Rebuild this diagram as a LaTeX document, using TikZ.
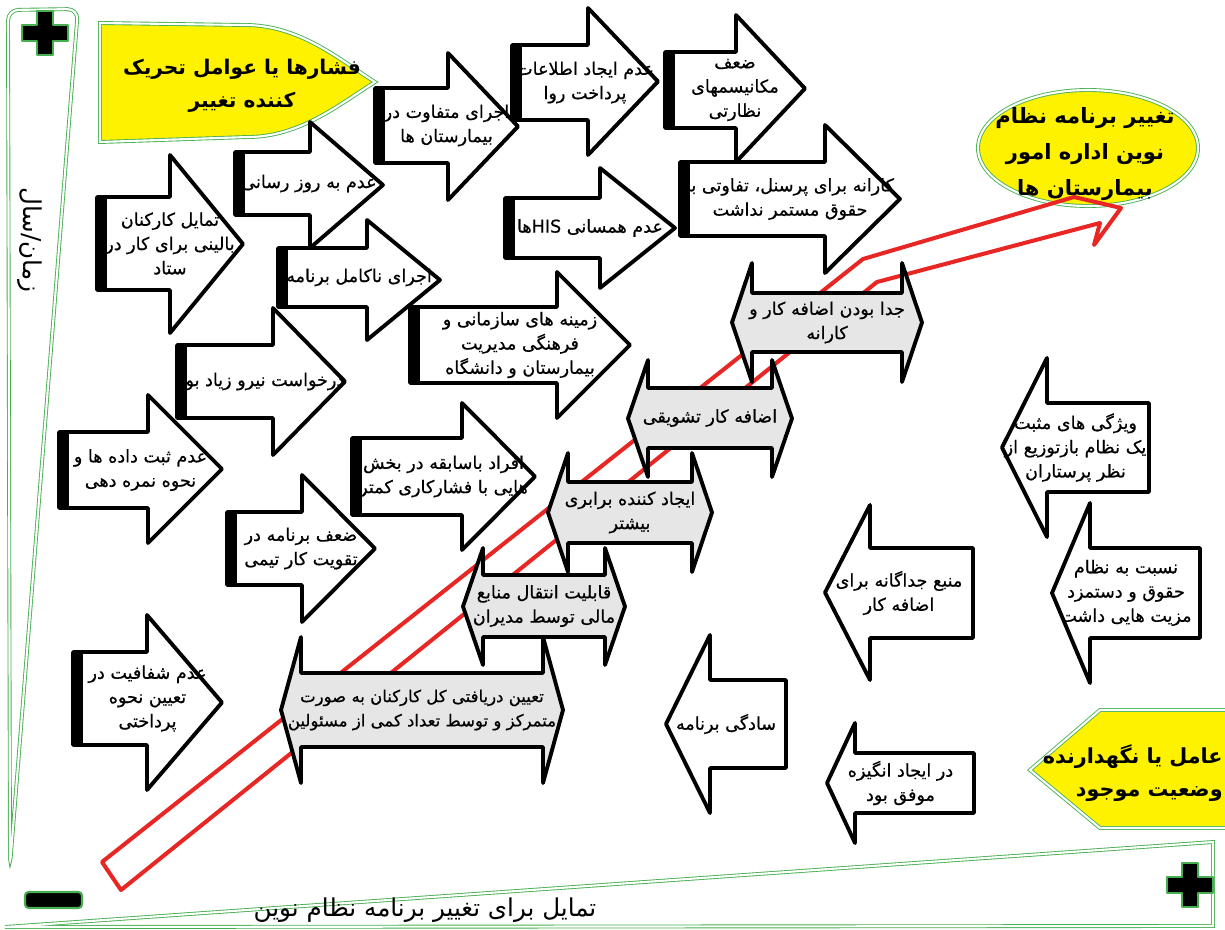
\documentclass[tikz,border=0pt]{standalone}
\usepackage{fontspec}
\usepackage{xcolor}
\usepackage{tikz}
\usetikzlibrary{calc}
\newfontfamily\farsi[Script=Arabic]{DejaVu Sans}
\newfontfamily\farsibox[Script=Arabic, FakeBold=0.6]{DejaVu Sans}
\TeXXeTstate=1
\definecolor{frameGreen}{RGB}{70,175,80}
\definecolor{trendRed}{RGB}{232,38,36}
\definecolor{boxGray}{RGB}{230,230,230}
\newcommand{\fa}[1]{\beginR #1\endR}
\newcommand{\fasmall}[1]{\fontsize{9.4}{13.8}\selectfont\beginR #1\endR}
% name, left, head base, tip, body top, body bottom, head top, head bottom, text
\newcommand{\rightblock}[9]{
  \draw[block] (#2,#5) -- (#3,#5) -- (#3,#7) -- (#4,{(#7+#8)/2}) -- (#3,#8) -- (#3,#6) -- (#2,#6) -- cycle;
  \fill (#2,#5) rectangle ({#2+10},#6);
  \node[blocktext] (#1) at ({(#2+#4)/2},{(#5+#6)/2}) {#9};
}
% name, tip, head base, right, body top, body bottom, head top, head bottom, text
\newcommand{\leftblock}[9]{
  \draw[block] (#2,{(#7+#8)/2}) -- (#3,#7) -- (#3,#5) -- (#4,#5) -- (#4,#6) -- (#3,#6) -- (#3,#8) -- cycle;
  \node[blocktext] (#1) at ({(#2+#4)/2},{(#5+#6)/2}) {#9};
}
% name, left base, right base, body top, body bottom, head top, head bottom, text
\newcommand{\bothblock}[8]{
  \draw[grayblock] ({#2-20},{(#6+#7)/2}) -- (#2,#6) -- (#2,#4) -- (#3,#4) -- (#3,#6) -- ({#3+20},{(#6+#7)/2}) -- (#3,#7) -- (#3,#5) -- (#2,#5) -- (#2,#7) -- cycle;
  \node[blocktext] (#1) at ({(#2+#3)/2},{(#4+#5)/2}) {#8};
}

\begin{document}
\begin{tikzpicture}[x=0.02cm,y=-0.02cm]
  \tikzstyle{block}=[draw=black, line width=2.2pt, line join=round, fill=white]
  \tikzstyle{grayblock}=[block, fill=boxGray]
  \tikzstyle{blocktext}=[font=\farsibox\fontsize{10}{13.8}\selectfont, align=center, inner sep=0pt]
  \tikzstyle{greenline}=[draw=frameGreen, line width=0.5pt, double=white, double distance=1.2pt]
  \tikzstyle{title}=[font=\farsi\bfseries\fontsize{11.5}{19}\selectfont, align=center, inner sep=0pt]
  \tikzstyle{axislabel}=[font=\farsi\fontsize{14}{16}\selectfont, inner sep=0pt]
  \tikzstyle{trend}=[draw=trendRed, line width=2.3pt, line join=round]
  \tikzstyle{sign}=[fill=black, draw=frameGreen, line width=1.5pt, line join=round]

  \useasboundingbox (0,0) rectangle (1225,930);

  % axes
  \draw[greenline, rounded corners=6] (8,10) -- (78,9) -- (10,866) -- cycle;
  \draw[greenline] (5,927) -- (1213,842) -- (1213,926) -- cycle;
  \foreach \cx/\cy in {45/33, 1190/885}
    \draw[sign] ({\cx-8},{\cy-22}) -- ({\cx+8},{\cy-22}) -- ({\cx+8},{\cy-8}) -- ({\cx+23},{\cy-8})
      -- ({\cx+23},{\cy+8}) -- ({\cx+8},{\cy+8}) -- ({\cx+8},{\cy+22}) -- ({\cx-8},{\cy+22})
      -- ({\cx-8},{\cy+8}) -- ({\cx-23},{\cy+8}) -- ({\cx-23},{\cy-8}) -- ({\cx-8},{\cy-8}) -- cycle;
  \draw[sign, line width=1.2pt, rounded corners=2] (25,892) rectangle (82,908);
  \node[axislabel, rotate=-90] (time) at (30,240) {\fa{زمان/سال}};
  \node[axislabel] (will) at (425,910) {\fa{تمایل برای تغییر برنامه نظام نوین}};

  % titles
  \draw[greenline, fill=yellow] (100,23) -- (245,25) .. controls (300,25) and (340,60) .. (375,82)
    .. controls (340,104) and (300,137) .. (248,137) -- (100,142) -- cycle;
  \node[title] (push) at (242,86) {\fa{فشارها یا عوامل تحریک}\\\fa{کننده تغییر}};
  \draw[greenline, fill=yellow] (1088,148) ellipse [x radius=110, y radius=58];
  \node[title, font=\farsi\bfseries\fontsize{12}{20.5}\selectfont] (goal) at (1085,154)
    {\fa{تغییر برنامه نظام}\\\fa{نوین اداره امور}\\\fa{بیمارستان ها}};
  \draw[greenline, fill=yellow] (1240,710) -- (1100,710) -- (1030,770) -- (1100,828) -- (1240,828);
  \node[title, align=right, anchor=east, font=\farsi\bfseries\fontsize{11.8}{19}\selectfont] (hold) at (1223,773)
    {\fa{عامل یا نگهدارنده}\\\fa{وضعیت موجود}};

  % driving forces
  \rightblock{staff}{97}{170}{243}{197}{290}{155}{333}{\fa{تمایل کارکنان}\\\fa{بالینی برای کار در}\\\fa{ستاد}}
  \rightblock{update}{235}{310}{383}{152}{215}{122}{248}{\fa{عدم به روز رسانی}}
  \rightblock{execdiff}{375}{448}{518}{88}{163}{53}{200}{\fa{اجرای متفاوت در}\\\fa{بیمارستان ها}}
  \rightblock{payinfo}{512}{588}{658}{45}{120}{8}{155}{\fa{عدم ایجاد اطلاعات}\\\fa{پرداخت روا}}
  \rightblock{monitor}{665}{736}{805}{52}{128}{15}{162}{\fa{ضعف}\\\fa{مکانیسمهای}\\\fa{نظارتی}}
  \rightblock{bonus}{680}{825}{900}{162}{236}{125}{273}{\fa{کارانه برای پرسنل، تفاوتی با}\\\fa{حقوق مستمر نداشت}}
  \rightblock{his}{505}{600}{675}{198}{258}{168}{288}{\fa{عدم همسانی \beginL HIS\endL ها}}
  \rightblock{partial}{278}{367}{440}{248}{307}{220}{340}{\fa{اجرای ناکامل برنامه}}
  \rightblock{culture}{410}{557}{630}{307}{383}{272}{418}{\fa{زمینه های سازمانی و}\\\fa{فرهنگی مدیریت}\\\fa{بیمارستان و دانشگاه}}
  \rightblock{demand}{177}{273}{345}{345}{418}{308}{455}{\fa{درخواست نیرو زیاد بود}}
  \rightblock{records}{59}{148}{222}{432}{508}{395}{543}{\fa{عدم ثبت داده ها و}\\\fa{نحوه نمره دهی}}
  \rightblock{seniors}{352}{462}{535}{438}{515}{403}{550}{\fa{افراد باسابقه در بخش}\\\fa{هایی با فشارکاری کمتر}}
  \rightblock{team}{227}{302}{375}{512}{585}{475}{622}{\fa{ضعف برنامه در}\\\fa{تقویت کار تیمی}}
  \rightblock{clarity}{73}{147}{222}{652}{745}{615}{790}{\fa{عدم شفافیت در}\\\fa{تعیین نحوه}\\\fa{پرداختی}}

  % restraining forces
  \leftblock{positive}{1002}{1047}{1149}{403}{492}{358}{537}{\fa{ویژگی های مثبت}\\\fa{یک نظام بازتوزیع از}\\\fa{نظر پرستاران}}
  \leftblock{salary}{1052}{1090}{1200}{548}{638}{503}{683}{\fa{نسبت به نظام}\\\fa{حقوق و دستمزد}\\\fa{مزیت هایی داشت}}
  \leftblock{source}{825}{870}{973}{548}{638}{505}{680}{\fa{منبع جداگانه برای}\\\fa{اضافه کار}}
  \leftblock{simple}{666}{710}{786}{680}{768}{635}{813}{\fa{سادگی برنامه}}
  \leftblock{motive}{827}{855}{974}{753}{813}{723}{843}{\fa{در ایجاد انگیزه}\\\fa{موفق بود}}

  % trend
  \draw[trend] (102,862) -- (863,259) -- (1074,197) -- (1121,208) -- (1094,245) -- (1100,223)
    -- (877,282) -- (121,890) -- cycle;

  % two-sided
  \bothblock{separate}{752}{902}{293}{352}{263}{382}{\fa{جدا بودن اضافه کار و}\\\fa{کارانه}}
  \bothblock{incentive}{648}{772}{388}{448}{360}{477}{\fa{اضافه کار تشویقی}}
  \bothblock{equality}{568}{692}{482}{543}{453}{572}{\fa{ایجاد کننده برابری}\\\fa{بیشتر}}
  \bothblock{transfer}{483}{605}{575}{637}{548}{665}{\fa{قابلیت انتقال منابع}\\\fa{مالی توسط مدیران}}
  \bothblock{central}{301}{543}{673}{747}{637}{783}{\fasmall{تعیین دریافتی کل کارکنان به صورت}\\\fasmall{متمرکز و توسط تعداد کمی از مسئولین}}
\end{tikzpicture}
\end{document}
